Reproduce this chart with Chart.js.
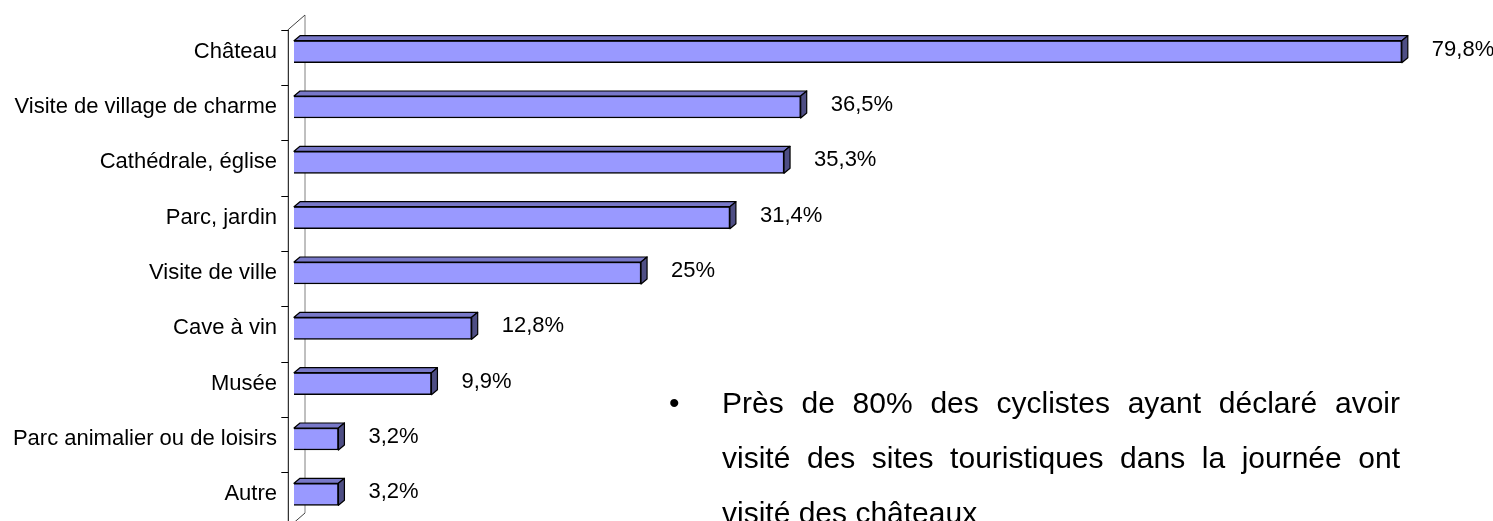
<!DOCTYPE html>
<html>
<head>
<meta charset="utf-8">
<script src="https://cdn.jsdelivr.net/npm/chart.js"></script>
<style>
  html, body { margin: 0; padding: 0; overflow: hidden; background: #fff; }
  #wrap { position: relative; width: 1493px; height: 521px; overflow: hidden; }
  #note { position: absolute; left: 722px; top: 375px; width: 678px;
    font-family: "Liberation Sans", Arial, sans-serif; font-size: 30px; line-height: 55px;
    text-align: justify; color: #000; }
  #bullet { position: absolute; left: 669px; top: 375px;
    font-family: "Liberation Sans", Arial, sans-serif; font-size: 30px; line-height: 55px; }
</style>
</head>
<body>
<div id="wrap">
  <canvas id="c" width="1493" height="522"></canvas>
  <div id="bullet">•</div>
  <div id="note">Près de 80% des cyclistes ayant déclaré avoir visité des sites touristiques dans la journée ont visité des châteaux</div>
</div>
<script>
// --- Data ---
const categories = ['Château', 'Visite de village de charme', 'Cathédrale, église', 'Parc, jardin',
  'Visite de ville', 'Cave à vin', 'Musée', 'Parc animalier ou de loisirs', 'Autre'];
const values = [79.8, 36.5, 35.3, 31.4, 25, 12.8, 9.9, 3.2, 3.2];

// --- 3D look ---
const FONT = '"Liberation Sans", Arial, sans-serif';
const front_color = '#9999FF';
const top_color = '#7878C8';
const side_color = '#4E4E84';
const depth = { dx: 6, dy: -5 };

function fmt(v) { return String(v).replace('.', ',') + '%'; }

// walls + axis, drawn behind bars
const wall_plugin = {
  id: 'wall',
  beforeDatasetsDraw(chart) {
    const { ctx, chartArea: a } = chart;
    const band = (a.bottom - a.top) / categories.length;
    const fx = a.left - 5.7, fy = a.top + 5.5;   // front top corner
    const bx = a.left + 11, by = a.top - 9;      // back top corner
    ctx.save();
    ctx.lineWidth = 1;
    ctx.strokeStyle = '#808080';
    ctx.beginPath();
    ctx.moveTo(bx, by); ctx.lineTo(bx, a.bottom - 9);
    ctx.stroke();
    ctx.strokeStyle = '#404040';
    ctx.beginPath();
    ctx.moveTo(fx, fy); ctx.lineTo(bx, by);
    ctx.moveTo(fx, a.bottom + 5.5); ctx.lineTo(bx, a.bottom - 9);
    ctx.stroke();
    ctx.strokeStyle = '#000';
    ctx.beginPath();
    ctx.moveTo(fx, fy); ctx.lineTo(fx, chart.height + 10);
    for (let i = 0; i <= categories.length; i++) {
      const y = Math.round(fy + i * band) + 0.5;
      ctx.moveTo(fx - 7, y); ctx.lineTo(fx, y);
    }
    ctx.stroke();
    ctx.restore();
  }
};

// top and side faces + value labels
const bar3d_plugin = {
  id: 'bar3d',
  afterDatasetsDraw(chart) {
    const { ctx } = chart;
    const meta = chart.getDatasetMeta(0);
    ctx.save();
    ctx.lineWidth = 1.2;
    ctx.strokeStyle = '#000';
    ctx.lineJoin = 'round';
    meta.data.forEach((bar, i) => {
      const { x, y, base, height } = bar.getProps(['x', 'y', 'base', 'height'], true);
      const t = y - height / 2, b = y + height / 2;
      ctx.fillStyle = top_color;
      ctx.beginPath();
      ctx.moveTo(base, t); ctx.lineTo(x, t);
      ctx.lineTo(x + depth.dx, t + depth.dy); ctx.lineTo(base + depth.dx, t + depth.dy);
      ctx.closePath(); ctx.fill(); ctx.stroke();
      ctx.fillStyle = side_color;
      ctx.beginPath();
      ctx.moveTo(x, t); ctx.lineTo(x + depth.dx, t + depth.dy);
      ctx.lineTo(x + depth.dx, b + depth.dy); ctx.lineTo(x, b);
      ctx.closePath(); ctx.fill(); ctx.stroke();
      ctx.fillStyle = '#000';
      ctx.font = '22px ' + FONT;
      ctx.textAlign = 'left';
      ctx.textBaseline = 'middle';
      ctx.fillText(fmt(values[i]), x + 30, y - 2);
    });
    ctx.restore();
  }
};

new Chart(document.getElementById('c'), {
  type: 'bar',
  data: {
    labels: categories,
    datasets: [{
      data: values,
      backgroundColor: front_color,
      borderColor: '#000',
      borderWidth: 1.5,
      barThickness: 22
    }]
  },
  options: {
    indexAxis: 'y',
    responsive: false,
    animation: false,
    layout: { padding: { top: 24, right: 19, bottom: 0, left: 0 } },
    plugins: { legend: { display: false }, tooltip: { enabled: false } },
    scales: {
      x: { min: 0, max: 85, display: false },
      y: {
        grid: { display: false },
        border: { display: false },
        ticks: { color: '#000', padding: 9, font: { family: FONT, size: 22 } },
        afterFit(s) { s.width = 294; s.paddingTop = 0; s.paddingBottom = 0; }
      }
    }
  },
  plugins: [wall_plugin, bar3d_plugin]
});
</script>
</body>
</html>
